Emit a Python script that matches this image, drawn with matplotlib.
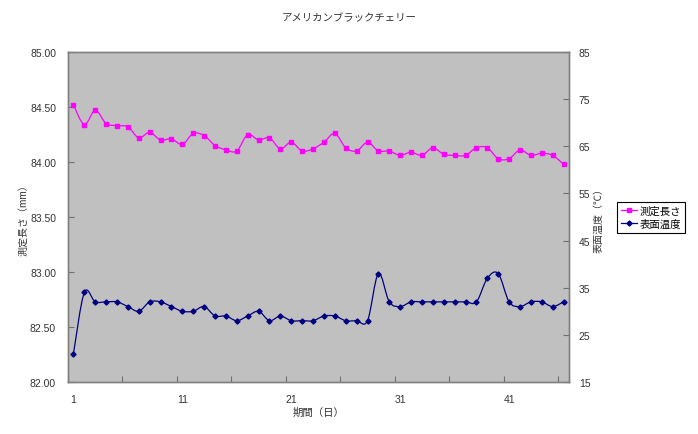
import numpy as np
import matplotlib
matplotlib.use('Agg')
import matplotlib.pyplot as plt
from matplotlib.path import Path
from matplotlib.patches import PathPatch
from matplotlib.lines import Line2D

plt.rcParams['font.family'] = ['Liberation Sans', 'Noto Sans CJK JP', 'DejaVu Sans']

# 測定長さ (mm)
length_mm = [84.52, 84.34, 84.47, 84.35, 84.33, 84.32, 84.22, 84.27, 84.20, 84.21,
             84.16, 84.26, 84.24, 84.15, 84.11, 84.10, 84.25, 84.20, 84.22, 84.12,
             84.18, 84.10, 84.12, 84.18, 84.26, 84.13, 84.10, 84.18, 84.10, 84.10,
             84.06, 84.09, 84.06, 84.13, 84.07, 84.06, 84.06, 84.13, 84.13, 84.03,
             84.03, 84.11, 84.06, 84.08, 84.06, 83.98]
# 表面温度 (℃)
temp_c = [21, 34, 32, 32, 32, 31, 30, 32, 32, 31,
          30, 30, 31, 29, 29, 28, 29, 30, 28, 29,
          28, 28, 28, 29, 29, 28, 28, 28, 38, 32,
          31, 32, 32, 32, 32, 32, 32, 32, 37, 38,
          32, 31, 32, 32, 31, 32]
days = np.arange(1, len(length_mm) + 1)
xlabels = ['1', '11', '21', '31', '41']

title = 'アメリカンブラックチェリー'
col_len = '#ff00ff'
col_tmp = '#000080'
txtc = '#333333'


def smooth_path(x, y):
	# excel style smoothed line (bezier, tension 1/6)
	n = len(x)
	verts = [(x[0], y[0])]
	codes = [Path.MOVETO]
	for i in range(n - 1):
		a = i - 1 if i > 0 else i
		b = i + 2 if i + 2 < n else i + 1
		c1 = (x[i] + (x[i + 1] - x[a]) / 6., y[i] + (y[i + 1] - y[a]) / 6.)
		c2 = (x[i + 1] - (x[b] - x[i]) / 6., y[i + 1] - (y[b] - y[i]) / 6.)
		verts += [c1, c2, (x[i + 1], y[i + 1])]
		codes += [Path.CURVE4] * 3
	return Path(verts, codes)


fig = plt.figure(figsize=(6.98, 4.35), dpi=100)
ax = fig.add_axes([68 / 698., 1 - 383 / 435., 501 / 698., 330 / 435.])
ax.set_facecolor('#c0c0c0')
ax2 = ax.twinx()

ax.add_patch(PathPatch(smooth_path(days, length_mm), fill=False, edgecolor=col_len, lw=0.9))
ax.plot(days, length_mm, ls='none', marker='s', ms=3.2, color=col_len, mec=col_len)
ax2.add_patch(PathPatch(smooth_path(days, temp_c), fill=False, edgecolor=col_tmp, lw=0.9))
ax2.plot(days, temp_c, ls='none', marker='D', ms=2.6, color=col_tmp, mec=col_tmp)

ax.set_xlim(0.5, len(days) + 0.5)
ax.set_ylim(82, 85)
ax2.set_ylim(15, 85)
ax.set_yticks(np.arange(82, 85.01, 0.5))
ax.set_yticklabels(['%.2f' % v for v in np.arange(82, 85.01, 0.5)])
ax2.set_yticks(np.arange(15, 86, 10))

ax.set_xticks(np.arange(0.5, len(days) + 1, 5))
ax.set_xticklabels([])
ax.set_xticks([int(s) for s in xlabels], minor=True)
ax.set_xticklabels(xlabels, minor=True)
ax.tick_params(axis='x', which='minor', length=0, pad=8.5, labelsize=7.5, labelcolor=txtc)
ax.tick_params(axis='x', which='major', direction='in', length=4, color='#707070')
ax.tick_params(axis='y', direction='in', length=4, color='#707070', pad=8.6, labelsize=7.5, labelcolor=txtc)
ax2.tick_params(axis='y', direction='in', length=4, color='#707070', pad=7, labelsize=7.5, labelcolor=txtc)

for a in [ax, ax2]:
	for s in a.spines.values():
		s.set_color('#808080')
		s.set_linewidth(1.0)

ax.set_xlabel('期間（日）', fontsize=7.5, color=txtc, labelpad=2)
ax.set_ylabel('測定長さ（mm）', fontsize=7.2, color=txtc, labelpad=1)
ax2.set_ylabel('表面温度（℃）', fontsize=7.2, color=txtc, rotation=90, labelpad=2)
fig.text(0.5, 1 - 18 / 435., title, ha='center', va='center', fontsize=7.5, color=txtc)

handles = [Line2D([], [], color=col_len, marker='s', ms=3.2, lw=0.9),
		   Line2D([], [], color=col_tmp, marker='D', ms=2.6, lw=0.9)]
leg = fig.legend(handles, ['測定長さ', '表面温度'], loc='upper left',
				 bbox_to_anchor=(617 / 698., 1 - 203 / 435.), fontsize=7.5,
				 frameon=True, fancybox=False, framealpha=1, edgecolor='black',
				 handlelength=1.6, handletextpad=0.25, borderpad=0.35, labelspacing=0.3,
				 borderaxespad=0)
leg.get_frame().set_linewidth(0.8)

fig.savefig('out.png', dpi=100)
